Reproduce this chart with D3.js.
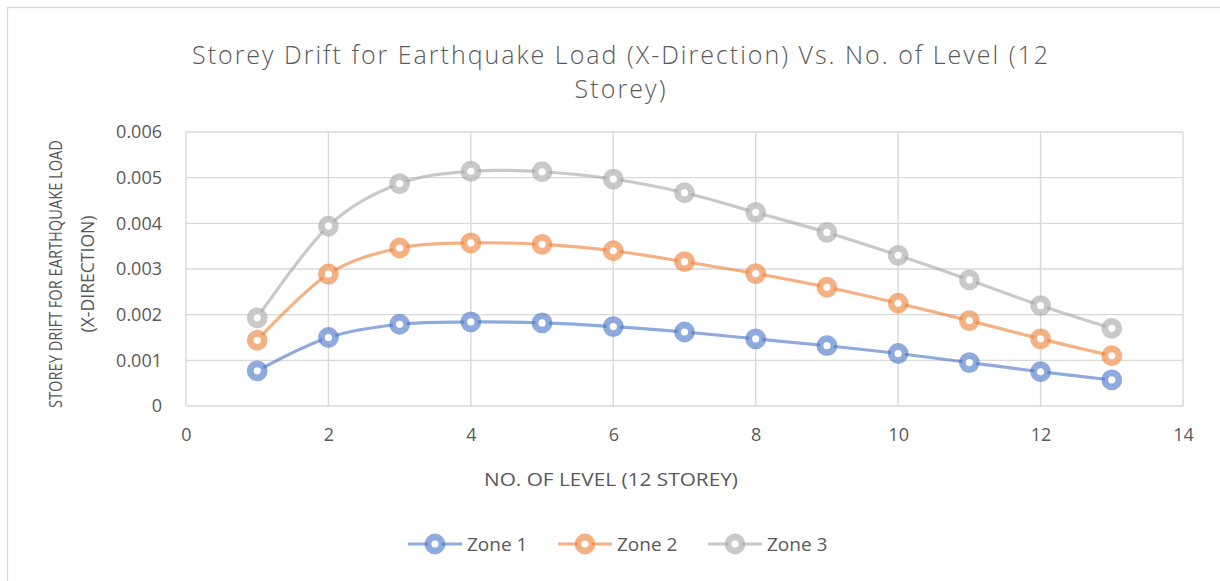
<!DOCTYPE html>
<html>
<head>
<meta charset="utf-8">
<script src="https://cdn.jsdelivr.net/npm/d3@7"></script>
<style>
  html, body { margin: 0; padding: 0; background: #ffffff; }
  svg { display: block; }
  text { font-family: "Open Sans", "Liberation Sans", sans-serif; fill: #595959; }
</style>
</head>
<body>
<svg id="chart" width="1220" height="581"></svg>
<script>
// Storey levels (x values)
const levels = [1, 2, 3, 4, 5, 6, 7, 8, 9, 10, 11, 12, 13];

// Storey drift per zone
const zone1 = [0.00077, 0.00150, 0.00179, 0.00184, 0.00182, 0.00174, 0.00162, 0.00147, 0.00132, 0.00115, 0.00095, 0.00075, 0.00057];
const zone2 = [0.00144, 0.00289, 0.00346, 0.00357, 0.00354, 0.00340, 0.00316, 0.00290, 0.00260, 0.00225, 0.00187, 0.00147, 0.00110];
const zone3 = [0.00193, 0.00394, 0.00487, 0.00514, 0.00513, 0.00497, 0.00467, 0.00424, 0.00380, 0.00330, 0.00276, 0.00220, 0.00170];

const seriesNames = ["Zone 1", "Zone 2", "Zone 3"];
const seriesColors = ["#4472C4", "#ED7D31", "#A5A5A5"];

const xTicks = [0, 2, 4, 6, 8, 10, 12, 14];
const yTicks = [0, 0.001, 0.002, 0.003, 0.004, 0.005, 0.006];

const titleLines = ["Storey Drift for Earthquake Load (X-Direction) Vs. No. of Level (12", "Storey)"];
const xTitle = "NO. OF LEVEL (12 STOREY)";
const yTitleLines = ["STOREY DRIFT FOR EARTHQUAKE LOAD", "(X-DIRECTION)"];

const series = [zone1, zone2, zone3].map((vals, i) => ({
  name: seriesNames[i],
  color: seriesColors[i],
  points: levels.map((lv, j) => ({ x: lv, y: vals[j] }))
}));

const svg = d3.select("#chart");

// chart frame
svg.append("rect")
  .attr("x", 7.5).attr("y", 7.5)
  .attr("width", 1240).attr("height", 600)
  .attr("fill", "#ffffff").attr("stroke", "#d9d9d9").attr("stroke-width", 1.3);

const plot = { left: 186, right: 1183, top: 132, bottom: 406 };

const x = d3.scaleLinear().domain([0, 14]).range([plot.left, plot.right]);
const y = d3.scaleLinear().domain([0, 0.006]).range([plot.bottom, plot.top]);

// gridlines
const grid = svg.append("g").attr("stroke", "#d9d9d9").attr("stroke-width", 1.4);
grid.selectAll("line.h").data(yTicks).join("line")
  .attr("class", "h")
  .attr("x1", plot.left).attr("x2", plot.right)
  .attr("y1", d => y(d)).attr("y2", d => y(d));
grid.selectAll("line.v").data(xTicks).join("line")
  .attr("class", "v")
  .attr("x1", d => x(d)).attr("x2", d => x(d))
  .attr("y1", plot.top).attr("y2", plot.bottom);

// axes (labels only, lines come from the grid)
const yAxis = d3.axisLeft(y).tickValues(yTicks).tickSize(0).tickPadding(24)
  .tickFormat(d => d === 0 ? "0" : d3.format(".3f")(d));
const yg = svg.append("g").attr("transform", `translate(${plot.left},0)`).call(yAxis);
yg.select(".domain").remove();
yg.selectAll("text").attr("font-size", 18).attr("fill", "#595959")
  .style("font-family", "'Open Sans', sans-serif");

const xAxis = d3.axisBottom(x).tickValues(xTicks).tickSize(0).tickPadding(22);
const xg = svg.append("g").attr("transform", `translate(0,${plot.bottom})`).call(xAxis);
xg.select(".domain").remove();
xg.selectAll("text").attr("font-size", 18).attr("fill", "#595959")
  .style("font-family", "'Open Sans', sans-serif");

// title
const titleBaselines = [64, 98];
const titleWidths = [856, 91];
titleLines.forEach((t, i) => {
  svg.append("text")
    .attr("x", 620).attr("y", titleBaselines[i])
    .attr("text-anchor", "middle")
    .attr("font-size", 25).attr("font-weight", 300)
    .attr("fill", "#595959")
    .attr("textLength", titleWidths[i]).attr("lengthAdjust", "spacing")
    .text(t);
});

// x axis title
svg.append("text")
  .attr("x", 611).attr("y", 486)
  .attr("text-anchor", "middle")
  .attr("font-size", 18)
  .attr("textLength", 254).attr("lengthAdjust", "spacingAndGlyphs")
  .text(xTitle);

// y axis title
const yTitleX = [62, 94];
const yTitleLen = [268, 117];
yTitleLines.forEach((t, i) => {
  svg.append("text")
    .attr("transform", `translate(${yTitleX[i]},${274}) rotate(-90)`)
    .attr("text-anchor", "middle")
    .attr("font-size", 18)
    .attr("textLength", yTitleLen[i]).attr("lengthAdjust", "spacingAndGlyphs")
    .text(t);
});

// series lines and markers
const line = d3.line()
  .x(d => x(d.x)).y(d => y(d.y))
  .curve(d3.curveCardinal.tension(0));

const sg = svg.append("g");
series.forEach(s => {
  sg.append("path")
    .datum(s.points)
    .attr("d", line)
    .attr("fill", "none")
    .attr("stroke", s.color)
    .attr("stroke-opacity", 0.6)
    .attr("stroke-width", 3.2);
});
series.forEach(s => {
  sg.append("g").selectAll("circle").data(s.points).join("circle")
    .attr("cx", d => x(d.x)).attr("cy", d => y(d.y))
    .attr("r", 7)
    .attr("fill", "#ffffff")
    .attr("stroke", s.color)
    .attr("stroke-opacity", 0.6)
    .attr("stroke-width", 6.8);
});

// legend
const legendX = [408, 558, 708];
const legendY = 544;
const lg = svg.append("g");
series.forEach((s, i) => {
  const g = lg.append("g").attr("transform", `translate(${legendX[i]},${legendY})`);
  g.append("line")
    .attr("x1", 0).attr("x2", 54).attr("y1", 0).attr("y2", 0)
    .attr("stroke", s.color).attr("stroke-opacity", 0.6).attr("stroke-width", 3.2);
  g.append("circle")
    .attr("cx", 27).attr("cy", 0).attr("r", 7)
    .attr("fill", "#ffffff")
    .attr("stroke", s.color).attr("stroke-opacity", 0.6).attr("stroke-width", 6.8);
  g.append("text")
    .attr("x", 59).attr("y", 7)
    .attr("font-size", 19)
    .text(s.name);
});
</script>
</body>
</html>
